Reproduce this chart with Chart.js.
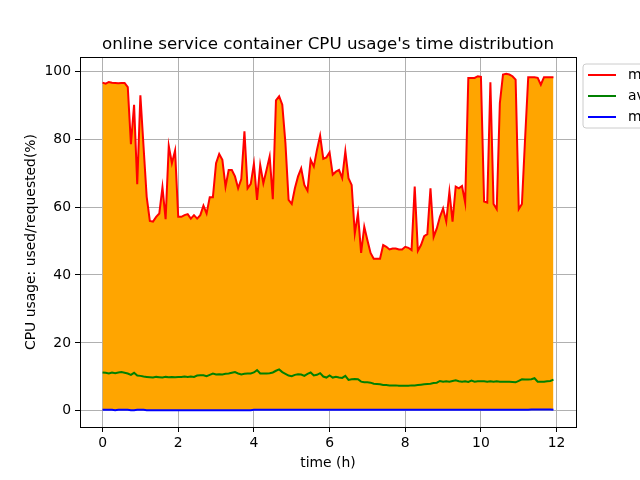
<!DOCTYPE html>
<html>
<head>
<meta charset="utf-8">
<script src="https://cdn.jsdelivr.net/npm/chart.js@4/dist/chart.umd.min.js"></script>
<style>
  html, body { margin: 0; padding: 0; background: #fff; }
  #wrap { width: 640px; height: 480px; }
</style>
</head>
<body>
<div id="wrap"><canvas id="cpuChart" width="640" height="480"></canvas></div>
<script>
// samples every 5 minutes over 12 hours
const sampleMinutes = 5;

const maxUsage = [
  96.6, 96.3, 96.8, 96.6, 96.5, 96.4, 96.5, 96.5,
  95.3, 78.5, 90.1, 66.7, 92.9, 77.8, 63.0, 55.9,
  55.7, 57.1, 58.1, 65.8, 56.4, 78.0, 72.9, 76.6,
  57.1, 57.1, 57.6, 57.9, 56.6, 57.6, 56.6, 57.6,
  60.4, 58.1, 62.9, 62.9, 72.9, 75.6, 73.9, 66.0,
  70.9, 70.9, 69.0, 65.5, 68.2, 82.3, 65.5, 66.8,
  72.7, 62.1, 72.4, 67.0, 70.9, 74.9, 62.3, 91.4,
  92.6, 90.1, 78.8, 62.1, 60.9, 65.5, 69.0, 71.4,
  66.5, 64.8, 73.9, 71.9, 76.8, 81.0, 74.2, 74.6,
  76.1, 69.5, 70.4, 70.9, 68.5, 76.4, 68.5, 66.5,
  52.2, 58.1, 46.5, 54.2, 50.2, 46.5, 44.8, 44.8,
  44.8, 48.8, 48.3, 47.5, 47.8, 47.8, 47.5, 47.5,
  48.3, 48.0, 47.3, 66.0, 47.1, 48.8, 51.4, 52.0,
  65.5, 51.2, 53.7, 57.1, 59.6, 55.7, 64.5, 55.7,
  66.0, 65.5, 66.2, 61.3, 98.0, 98.0, 98.0, 98.5,
  98.3, 61.6, 61.3, 96.7, 60.9, 59.4, 90.6, 99.0,
  99.2, 99.0, 98.5, 97.5, 59.4, 60.9, 80.0, 98.2,
  98.2, 98.2, 98.0, 96.0, 98.2, 98.2, 98.2, 98.2
];

const avgUsage = [
  11.3, 11.2, 11.0, 11.3, 11.1, 11.3, 11.4, 11.2,
  11.0, 10.6, 11.2, 10.4, 10.3, 10.1, 10.0, 9.9,
  9.8, 10.0, 9.9, 9.8, 10.0, 9.9, 10.0, 9.9,
  10.0, 10.0, 10.1, 10.0, 10.1, 10.0, 10.4, 10.5,
  10.5, 10.2, 10.6, 11.0, 10.7, 10.8, 10.7, 10.9,
  11.0, 11.2, 11.4, 11.0, 10.7, 10.9, 11.0, 11.0,
  11.3, 12.0, 11.0, 11.0, 11.0, 11.1, 11.3, 11.8,
  12.2, 11.4, 10.9, 10.4, 10.2, 10.6, 10.8, 10.7,
  10.3, 10.9, 11.3, 10.4, 10.6, 11.1, 10.1, 9.8,
  10.4, 9.8, 10.0, 9.8, 9.7, 10.3, 9.1, 9.3,
  9.4, 9.3, 8.6, 8.4, 8.4, 8.3, 8.0, 7.9,
  7.8, 7.6, 7.6, 7.5, 7.5, 7.5, 7.4, 7.4,
  7.4, 7.4, 7.5, 7.5, 7.6, 7.7, 7.8, 7.9,
  8.0, 8.2, 8.3, 8.8, 8.6, 8.7, 8.6, 8.8,
  9.0, 8.7, 8.6, 8.7, 8.5, 8.9, 8.6, 8.7,
  8.7, 8.7, 8.6, 8.7, 8.6, 8.7, 8.6, 8.6,
  8.6, 8.6, 8.5, 8.4, 8.8, 9.3, 9.2, 9.2,
  9.3, 9.6, 8.6, 8.6, 8.6, 8.7, 8.8, 9.2
];

const minUsage = [
  0.3, 0.3, 0.3, 0.3, 0.2, 0.3, 0.3, 0.3,
  0.3, 0.2, 0.2, 0.3, 0.3, 0.3, 0.2, 0.2,
  0.2, 0.2, 0.2, 0.2, 0.2, 0.2, 0.2, 0.2,
  0.2, 0.2, 0.2, 0.2, 0.2, 0.2, 0.2, 0.2,
  0.2, 0.2, 0.2, 0.2, 0.2, 0.2, 0.2, 0.2,
  0.2, 0.2, 0.2, 0.2, 0.2, 0.2, 0.2, 0.2,
  0.3, 0.3, 0.3, 0.3, 0.3, 0.3, 0.3, 0.3,
  0.3, 0.3, 0.3, 0.3, 0.3, 0.3, 0.3, 0.3,
  0.3, 0.3, 0.3, 0.3, 0.3, 0.3, 0.3, 0.3,
  0.3, 0.3, 0.3, 0.3, 0.3, 0.3, 0.3, 0.3,
  0.3, 0.3, 0.3, 0.3, 0.3, 0.3, 0.3, 0.3,
  0.3, 0.3, 0.3, 0.3, 0.3, 0.3, 0.3, 0.3,
  0.3, 0.3, 0.3, 0.3, 0.3, 0.3, 0.3, 0.3,
  0.3, 0.3, 0.3, 0.3, 0.3, 0.3, 0.3, 0.3,
  0.3, 0.3, 0.3, 0.3, 0.3, 0.3, 0.3, 0.3,
  0.3, 0.3, 0.3, 0.3, 0.3, 0.3, 0.3, 0.3,
  0.3, 0.3, 0.3, 0.3, 0.3, 0.3, 0.3, 0.3,
  0.4, 0.4, 0.4, 0.4, 0.4, 0.4, 0.4, 0.3
];

const seriesNames = ['max', 'avg', 'min'];
const seriesColors = ['#ff0000', '#008000', '#0000ff'];
const xTicks = [0, 2, 4, 6, 8, 10, 12];
const yTicks = [0, 20, 40, 60, 80, 100];

const titleText = "online service container CPU usage's time distribution";
const xLabel = 'time (h)';
const yLabel = 'CPU usage: used/requested(%)';

const hours = maxUsage.map((v, i) => i * sampleMinutes / 60);
function toPoints(arr) {
  return arr.map((v, i) => ({ x: hours[i], y: v }));
}

// matplotlib style 5% margins
const xSpan = hours[hours.length - 1] - hours[0];
const allY = maxUsage.concat(minUsage);
const yLo = Math.min(...allY), yHi = Math.max(...allY);
const ySpan = yHi - yLo;

const FONT = 'DejaVu Sans';
Chart.defaults.font.family = FONT;
Chart.defaults.font.size = 14;
Chart.defaults.color = '#000';

// title, axis labels, top/right spines and the (clipped) legend
const decorations = {
  id: 'decorations',
  afterDraw(chart) {
    const ctx = chart.ctx;
    const a = chart.chartArea;
    ctx.save();
    ctx.strokeStyle = '#000';
    ctx.lineWidth = 1;
    ctx.strokeRect(Math.round(a.left) + 0.5, Math.round(a.top) + 0.5,
      Math.round(a.right - a.left), Math.round(a.bottom - a.top));

    ctx.fillStyle = '#000';
    ctx.textAlign = 'center';
    ctx.textBaseline = 'alphabetic';
    ctx.font = '16.7px "' + FONT + '"';
    ctx.fillText(titleText, (a.left + a.right) / 2, a.top - 8);

    ctx.font = '13.9px "' + FONT + '"';
    ctx.textBaseline = 'top';
    ctx.fillText(xLabel, (a.left + a.right) / 2, 456);

    ctx.save();
    ctx.translate(31, (a.top + a.bottom) / 2);
    ctx.rotate(-Math.PI / 2);
    ctx.textBaseline = 'middle';
    ctx.fillText(yLabel, 0, 0);
    ctx.restore();

    // legend box, sitting outside the axes to the right
    const bx = a.right + 7, by = a.top + 7, bw = 90, bh = 64, r = 3;
    ctx.beginPath();
    ctx.moveTo(bx + r, by);
    ctx.lineTo(bx + bw - r, by);
    ctx.arcTo(bx + bw, by, bx + bw, by + r, r);
    ctx.lineTo(bx + bw, by + bh - r);
    ctx.arcTo(bx + bw, by + bh, bx + bw - r, by + bh, r);
    ctx.lineTo(bx + r, by + bh);
    ctx.arcTo(bx, by + bh, bx, by + bh - r, r);
    ctx.lineTo(bx, by + r);
    ctx.arcTo(bx, by, bx + r, by, r);
    ctx.closePath();
    ctx.fillStyle = 'rgba(255,255,255,0.8)';
    ctx.fill();
    ctx.strokeStyle = '#cccccc';
    ctx.stroke();

    ctx.textAlign = 'left';
    ctx.textBaseline = 'middle';
    seriesNames.forEach((name, k) => {
      const yy = by + 11 + k * 21;
      ctx.strokeStyle = seriesColors[k];
      ctx.lineWidth = 2;
      ctx.beginPath();
      ctx.moveTo(bx + 5, yy);
      ctx.lineTo(bx + 33, yy);
      ctx.stroke();
      ctx.fillStyle = '#000';
      ctx.fillText(name, bx + 45, yy);
    });
    ctx.restore();
  }
};

const ctx = document.getElementById('cpuChart').getContext('2d');
new Chart(ctx, {
  type: 'line',
  data: {
    datasets: [
      {
        label: seriesNames[0],
        data: toPoints(maxUsage),
        borderColor: seriesColors[0],
        backgroundColor: '#ffa500',
        borderWidth: 2,
        fill: 2 // fill down to the min series
      },
      {
        label: seriesNames[1],
        data: toPoints(avgUsage),
        borderColor: seriesColors[1],
        borderWidth: 2,
        fill: false
      },
      {
        label: seriesNames[2],
        data: toPoints(minUsage),
        borderColor: seriesColors[2],
        borderWidth: 2,
        fill: false
      }
    ]
  },
  options: {
    responsive: false,
    animation: false,
    devicePixelRatio: 1,
    elements: { point: { radius: 0 }, line: { tension: 0 } },
    layout: { padding: { left: 0, right: 64, top: 57, bottom: 0 } },
    scales: {
      x: {
        type: 'linear',
        min: hours[0] - 0.05 * xSpan,
        max: hours[hours.length - 1] + 0.05 * xSpan,
        afterBuildTicks: scale => { scale.ticks = xTicks.map(v => ({ value: v })); },
        afterFit: scale => { scale.height = 53; },
        grid: { color: '#b0b0b0', lineWidth: 1, tickLength: 5, tickColor: '#000' },
        border: { color: '#000', width: 1 },
        ticks: { padding: 3, maxRotation: 0, font: { size: 13.9 } }
      },
      y: {
        min: yLo - 0.05 * ySpan,
        max: yHi + 0.05 * ySpan,
        afterBuildTicks: scale => { scale.ticks = yTicks.map(v => ({ value: v })); },
        afterFit: scale => { scale.width = 80; },
        grid: { color: '#b0b0b0', lineWidth: 1, tickLength: 5, tickColor: '#000' },
        border: { color: '#000', width: 1 },
        ticks: { padding: 4, font: { size: 13.9 } }
      }
    },
    plugins: {
      legend: { display: false },
      title: { display: false },
      tooltip: { enabled: false },
      filler: { drawTime: 'beforeDatasetsDraw' }
    }
  },
  plugins: [decorations]
});
</script>
</body>
</html>
